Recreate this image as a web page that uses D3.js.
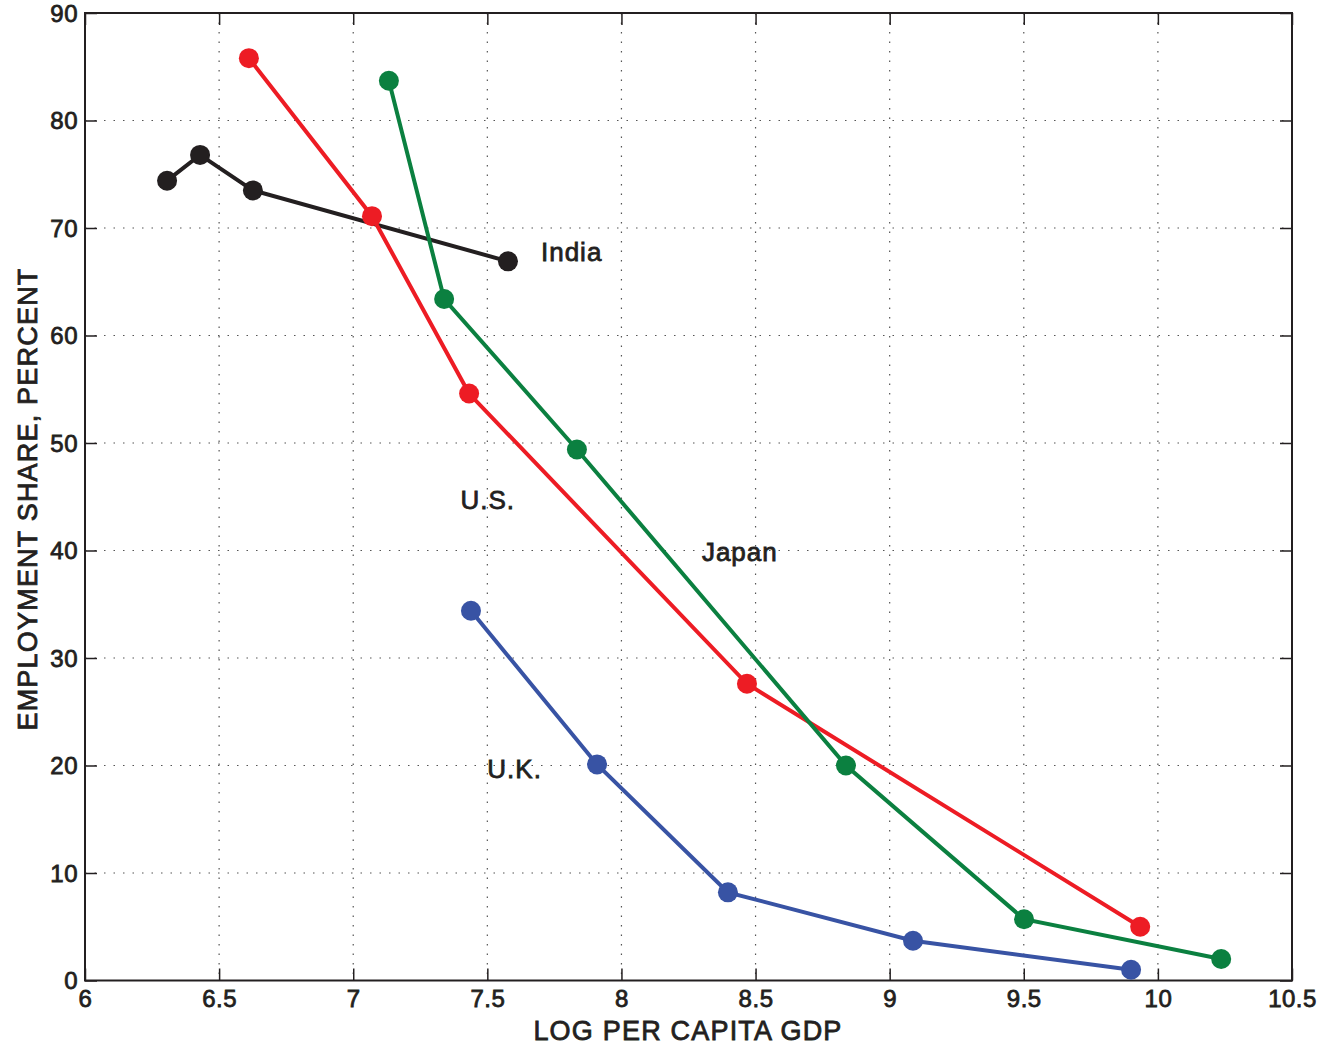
<!DOCTYPE html>
<html><head><meta charset="utf-8">
<script src="https://cdn.jsdelivr.net/npm/d3@7"></script>
<style>body{margin:0;background:#fff;} text{font-family:"Liberation Sans",Arial,sans-serif;fill:#231f20;}</style>
</head><body>
<svg id="c" width="1332" height="1051"></svg>
<script>
const xTicks = [6, 6.5, 7, 7.5, 8, 8.5, 9, 9.5, 10, 10.5];
const yTicks = [0, 10, 20, 30, 40, 50, 60, 70, 80, 90];
const indiaX = [6.306, 6.429, 6.626, 7.577];
const indiaY = [74.4, 76.8, 73.5, 66.9];
const usX = [6.611, 7.070, 7.432, 8.468, 9.934];
const usY = [85.8, 71.1, 54.6, 27.6, 5.0];
const japanX = [7.133, 7.339, 7.834, 8.837, 9.501, 10.236];
const japanY = [83.7, 63.4, 49.4, 20.0, 5.7, 2.0];
const ukX = [7.439, 7.909, 8.397, 9.087, 9.900];
const ukY = [34.4, 20.1, 8.2, 3.7, 1.0];
const seriesNames = ["India", "U.S.", "Japan", "U.K."];
const labelPos = [[7.7, 66.9], [7.4, 43.9], [8.3, 39.0], [7.5, 18.8]];

const svg = d3.select("#c");
const L = 85, R = 1292, T = 13, B = 980.5;
const x = d3.scaleLinear().domain([6, 10.5]).range([L, R]);
const y = d3.scaleLinear().domain([0, 90]).range([B, T]);

function heavy(sel, size, ls) {
  sel.style("font-size", size + "px").attr("fill", "#231f20")
    .attr("stroke", "#231f20").attr("stroke-width", 0.8)
    .style("letter-spacing", (ls || 0) + "px");
}

// grid
const g = svg.append("g");
g.selectAll(".vg").data(xTicks.slice(1, -1)).enter().append("line")
  .attr("x1", d => x(d)).attr("x2", d => x(d)).attr("y1", T).attr("y2", B)
  .attr("stroke", "#555").attr("stroke-width", 1.2).attr("stroke-dasharray", "1.5,8");
g.selectAll(".hg").data(yTicks.slice(1, -1)).enter().append("line")
  .attr("y1", d => y(d)).attr("y2", d => y(d)).attr("x1", L).attr("x2", R)
  .attr("stroke", "#555").attr("stroke-width", 1.2).attr("stroke-dasharray", "1.5,8");

// axes (inward ticks, mirrored)
const fmt = d => String(d);
const ax = svg.append("g").attr("transform", `translate(0,${B})`)
  .call(d3.axisBottom(x).tickValues(xTicks).tickSize(-12).tickPadding(9).tickFormat(fmt));
const axT = svg.append("g").attr("transform", `translate(0,${T})`)
  .call(d3.axisTop(x).tickValues(xTicks).tickSize(-12).tickFormat(""));
const ay = svg.append("g").attr("transform", `translate(${L},0)`)
  .call(d3.axisLeft(y).tickValues(yTicks).tickSize(-12).tickPadding(7).tickFormat(fmt));
const ayR = svg.append("g").attr("transform", `translate(${R},0)`)
  .call(d3.axisRight(y).tickValues(yTicks).tickSize(-12).tickFormat(""));
[ax, axT, ay, ayR].forEach(a => {
  a.select(".domain").remove();
  a.selectAll("line").attr("stroke", "#231f20").attr("stroke-width", 1.5);
  heavy(a.selectAll("text"), 24, 0.5);
});
ay.selectAll("text").attr("dy", "0.35em");
svg.append("rect").attr("x", L).attr("y", T).attr("width", R - L).attr("height", B - T)
  .attr("fill", "none").attr("stroke", "#231f20").attr("stroke-width", 2);

// series
const series = [
  {x: indiaX, y: indiaY, c: "#231f20"},
  {x: usX, y: usY, c: "#ed1c24"},
  {x: japanX, y: japanY, c: "#0b8040"},
  {x: ukX, y: ukY, c: "#3853a4"}
];
const line = d3.line().x(d => x(d[0])).y(d => y(d[1]));
series.forEach(s => {
  const pts = s.x.map((v, i) => [v, s.y[i]]);
  svg.append("path").attr("d", line(pts)).attr("fill", "none")
    .attr("stroke", s.c).attr("stroke-width", 4);
  svg.selectAll(null).data(pts).enter().append("circle")
    .attr("cx", d => x(d[0])).attr("cy", d => y(d[1])).attr("r", 10).attr("fill", s.c);
});

// labels
seriesNames.forEach((n, i) => {
  heavy(svg.append("text").attr("x", x(labelPos[i][0])).attr("y", y(labelPos[i][1])).text(n), 26, 1);
});

// axis titles
heavy(svg.append("text").attr("x", 688).attr("y", 1040).attr("text-anchor", "middle")
  .text("LOG PER CAPITA GDP"), 27, 1.2);
heavy(svg.append("text").attr("transform", `translate(37,499) rotate(-90)`)
  .attr("text-anchor", "middle").text("EMPLOYMENT SHARE, PERCENT"), 27, 1.2);
</script>
</body></html>
